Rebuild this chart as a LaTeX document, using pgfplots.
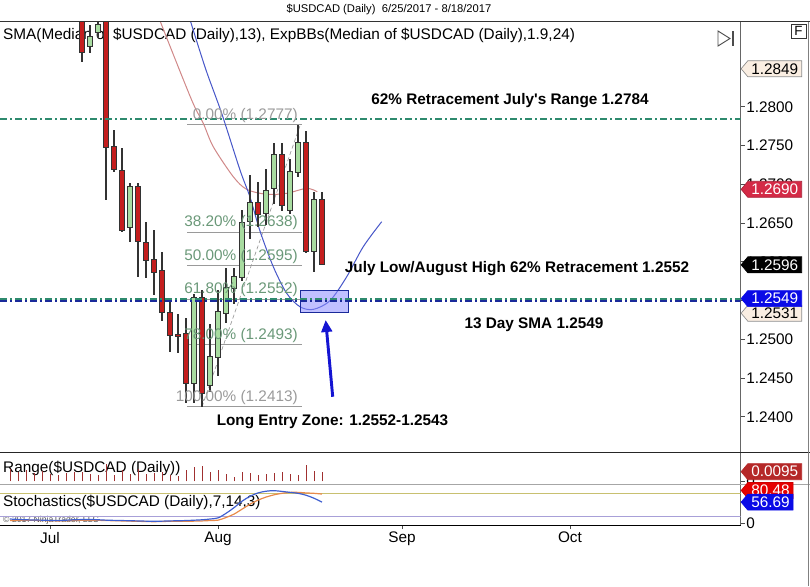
\documentclass[border=0pt]{standalone}
\usepackage{pgfplots}
\pgfplotsset{compat=1.18}
\usepackage{pgfplotstable}
\usepackage{fontspec}
\setmainfont{Liberation Sans}
\usetikzlibrary{shapes.symbols,arrows.meta}
\newcommand\fs{\fontsize{11.5}{13.5}\selectfont}
\definecolor{cred}{HTML}{C41E1E}
\definecolor{cgreen}{HTML}{A8DCA0}
\definecolor{cedge}{HTML}{333333}
\definecolor{fibtxt}{HTML}{6A9878}
\definecolor{fibgray}{HTML}{9A9A9A}
\definecolor{teal1}{HTML}{2E8A6E}
\definecolor{navy1}{HTML}{1A2A9A}
\definecolor{pinkma}{HTML}{D08888}
\definecolor{bluema}{HTML}{4656C8}
\definecolor{stochK}{HTML}{3F5FD0}
\definecolor{stochD}{HTML}{E88A4A}
\definecolor{cream}{HTML}{FAEEE2}
\definecolor{tagred}{HTML}{D42A46}
\definecolor{tagblue}{HTML}{0A0AE6}
\definecolor{tagdred}{HTML}{B52828}
\definecolor{arrowblue}{HTML}{1414D2}
\definecolor{rngcol}{HTML}{A03030}
\definecolor{line80}{HTML}{C8C070}
\definecolor{line20}{HTML}{A8A0D8}

\pgfplotstableread{
i o h l c
4 1.2940 1.2955 1.2858 1.2871
5 1.2878 1.2905 1.2869 1.2890
6 1.2896 1.2915 1.2890 1.2906
7 1.2915 1.2930 1.2680 1.2748
8 1.2748 1.2770 1.2716 1.2720
9 1.2718 1.2747 1.2638 1.2641
10 1.2644 1.2702 1.2626 1.2697
11 1.2697 1.2702 1.2581 1.2626
12 1.2624 1.2652 1.2579 1.2602
13 1.2603 1.2641 1.2557 1.2587
14 1.2588 1.2613 1.2523 1.2535
15 1.2534 1.2551 1.2484 1.2505
16 1.2506 1.2533 1.2482 1.2504
17 1.2507 1.2528 1.2418 1.2443
18 1.2443 1.2558 1.2418 1.2553
19 1.2553 1.2563 1.2413 1.2430
20 1.2441 1.2520 1.2432 1.2477
21 1.2477 1.2563 1.2452 1.2535
22 1.2534 1.2592 1.2521 1.2566
23 1.2566 1.2592 1.2545 1.2580
24 1.2580 1.2667 1.2575 1.2650
25 1.2652 1.2712 1.2630 1.2676
26 1.2676 1.2703 1.2645 1.2662
27 1.2662 1.2720 1.2647 1.2692
28 1.2695 1.2753 1.2675 1.2738
29 1.2738 1.2753 1.2665 1.2673
30 1.2667 1.2733 1.2662 1.2716
31 1.2716 1.2777 1.2710 1.2753
32 1.2753 1.2769 1.2612 1.2613
33 1.2613 1.2690 1.2587 1.2680
34 1.2680 1.2690 1.2596 1.2597
}\allc

\pgfplotstableread{
i o c
4 1.2940 1.2871
7 1.2915 1.2748
8 1.2748 1.2720
9 1.2718 1.2641
11 1.2697 1.2626
12 1.2624 1.2602
13 1.2603 1.2587
14 1.2588 1.2535
15 1.2534 1.2505
16 1.2506 1.2504
17 1.2507 1.2443
19 1.2553 1.2430
26 1.2676 1.2662
29 1.2738 1.2673
32 1.2753 1.2613
34 1.2680 1.2597
}\dnc

\pgfplotstableread{
i o c
5 1.2878 1.2890
6 1.2896 1.2906
10 1.2644 1.2697
18 1.2443 1.2553
20 1.2441 1.2477
21 1.2477 1.2535
22 1.2534 1.2566
23 1.2566 1.2580
24 1.2580 1.2650
25 1.2652 1.2676
27 1.2662 1.2692
28 1.2695 1.2738
30 1.2667 1.2716
31 1.2716 1.2753
33 1.2613 1.2680
}\upc

\pgfplotstableread{
i r
-5 0.0120
-4 0.0095
-3 0.0110
-2 0.0080
-1 0.0100
0 0.0075
1 0.0060
2 0.0085
3 0.0090
4 0.0095
5 0.0070
6 0.0065
7 0.0167
8 0.0060
9 0.0110
10 0.0076
11 0.0121
12 0.0073
13 0.0084
14 0.0090
15 0.0067
16 0.0051
17 0.0110
18 0.0140
19 0.0150
20 0.0088
21 0.0111
22 0.0071
23 0.0047
24 0.0092
25 0.0082
26 0.0058
27 0.0073
28 0.0078
29 0.0088
30 0.0071
31 0.0067
32 0.0157
33 0.0103
34 0.0095
}\rng

\pgfplotstableread{
i k d
-5 12 8
-3 10 9
-1 9 8
1 8 7
3 10 8
5 11 9
7 9 8
9 8 7
11 7 6
13 6 5
15 7 6
17 8 6
19 10 7
20 12 8
21 15 9
22 27 16
23 42 25
24 59 38
25 72 51
26 81 62
27 85.5 70
28 87 76
29 85 80
30 82.5 82.5
31 80 82.5
32 75 81
33 67 80
34 56.69 78
}\sto

\newcommand\candles[2]{%
\addplot[draw=none, mark=none, forget plot, error bars/.cd, y dir=both, y explicit, error mark=none,
  error bar style={draw=cedge, line width=4pt}]
  table[x=i, y expr={(\thisrow{o}+\thisrow{c})/2}, y error expr={abs(\thisrow{c}-\thisrow{o})/2+0.0001}] #1;
\addplot[draw=none, mark=none, forget plot, error bars/.cd, y dir=both, y explicit, error mark=none,
  error bar style={draw=#2, line width=2.6pt}]
  table[x=i, y expr={(\thisrow{o}+\thisrow{c})/2}, y error expr={max(abs(\thisrow{c}-\thisrow{o})/2-0.00003,0)}] #1;
}

\pgfplotsset{
  panel/.style={scale only axis, width=555.525pt, xmin=-6.25, xmax=86.34, anchor=north west,
    axis y line*=right, tick align=outside, major tick length=3pt,
    tick style={black!70, line width=0.6pt}, axis line style={black!60, line width=0.7pt},
    ticklabel style={font=\fs}, /pgf/number format/assume math mode=true, clip mode=individual,
    scaled y ticks=false},
}
\tikzset{tag/.style={signal, signal to=west, signal pointer angle=100, anchor=west,
  inner xsep=2.6pt, inner ysep=0.8pt, minimum height=12pt, font=\fs, line width=0.5pt}}

\begin{document}
\begin{tikzpicture}
\path[use as bounding box] (0pt,0pt) rectangle (607.5pt,-439.5pt);

% ---------------- main price panel ----------------
\begin{axis}[panel, at={(0pt,-16.275pt)}, height=322.95pt,
  ymin=1.23541, ymax=1.29097, axis x line=none,
  ytick={1.24,1.245,1.25,1.255,1.26,1.265,1.27,1.275,1.28},
  yticklabel style={/pgf/number format/fixed, /pgf/number format/fixed zerofill,
    /pgf/number format/precision=4, inner sep=1pt}]
\node[anchor=west, font=\fs, inner sep=0pt] at (rel axis cs:0.004,0.969)
  {SMA(Median of \$USDCAD (Daily),13), ExpBBs(Median of \$USDCAD (Daily),1.9,24)};
% fibonacci levels
\addplot[fibgray, line width=0.6pt, forget plot] coordinates {(17.16,1.2777) (31.46,1.2777)};
\addplot[fibgray, line width=0.6pt, forget plot] coordinates {(17.16,1.2638) (31.46,1.2638)};
\addplot[fibgray, line width=0.6pt, forget plot] coordinates {(17.16,1.2595) (31.46,1.2595)};
\addplot[fibgray, line width=0.6pt, forget plot] coordinates {(17.16,1.2552) (31.46,1.2552)};
\addplot[fibgray, line width=0.6pt, forget plot] coordinates {(17.16,1.2493) (31.46,1.2493)};
\addplot[fibgray, line width=0.6pt, forget plot] coordinates {(17.16,1.2413) (31.46,1.2413)};
\addplot[fibgray, densely dashed, line width=0.5pt, forget plot] coordinates {(19,1.2413) (31.3,1.2777)};
% moving averages
\addplot[pinkma, line width=0.75pt, smooth, forget plot] coordinates {
 (13.5,1.2920) (13.96,1.29054) (17.71,1.28086) (19.16,1.27786) (20.41,1.27484)
 (22.91,1.27097) (24.59,1.26934) (27.09,1.26870) (29.59,1.26883) (32.09,1.26947) (33.41,1.26903)};
\addplot[bluema, line width=0.75pt, smooth, forget plot] coordinates {
 (17.3,1.2920) (17.71,1.29054) (19.5,1.28474) (21.46,1.27915) (23.75,1.27183) (25,1.26835)
 (26.25,1.26396) (27.91,1.25936) (29.59,1.25592) (31.25,1.25419) (32.91,1.25385)
 (35,1.25497) (37.09,1.25806) (39.16,1.26194) (41.46,1.26516)};
% candles
\addplot[draw=none, mark=none, forget plot, error bars/.cd, y dir=both, y explicit, error mark=none,
  error bar style={draw=cedge, line width=0.8pt}]
  table[x=i, y expr={(\thisrow{h}+\thisrow{l})/2}, y error expr={(\thisrow{h}-\thisrow{l})/2}] \allc;
\candles{\dnc}{cred}
\candles{\upc}{cgreen}
% entry zone box
\addplot[draw=navy1, line width=0.6pt, fill=blue!45!white, fill opacity=0.55, forget plot]
  coordinates {(31.3,1.25347) (37.25,1.25347) (37.25,1.25635) (31.3,1.25635) (31.3,1.25347)};
% dash-dot levels
\addplot[teal1, line width=1.3pt, dash pattern=on 5.25pt off 2.25pt on 1.5pt off 2.25pt, forget plot]
  coordinates {(-6.25,1.2784) (86.34,1.2784)};
\addplot[teal1, line width=1.3pt, dash pattern=on 5.25pt off 2.25pt on 1.5pt off 2.25pt, forget plot]
  coordinates {(-6.25,1.2552) (86.34,1.2552)};
\addplot[navy1, line width=1.4pt, dash pattern=on 5.25pt off 2.25pt on 1.5pt off 2.25pt, forget plot]
  coordinates {(-6.25,1.2549) (86.34,1.2549)};
% arrow
\addplot[arrowblue, line width=2.2pt, -{Triangle[width=8pt,length=9pt]}, forget plot]
  coordinates {(35.34,1.24258) (34.46,1.25248)};
% fib labels
\node[anchor=base east, inner sep=0pt, yshift=4pt, font=\fs, text=fibgray] at (axis cs:31.0,1.2777) {0.00\% (1.2777)};
\node[anchor=base east, inner sep=0pt, yshift=4pt, font=\fs, text=fibtxt] at (axis cs:31.0,1.2638) {38.20\% (1.2638)};
\node[anchor=base east, inner sep=0pt, yshift=4pt, font=\fs, text=fibtxt] at (axis cs:31.0,1.2595) {50.00\% (1.2595)};
\node[anchor=base east, inner sep=0pt, yshift=4pt, font=\fs, text=fibtxt] at (axis cs:31.0,1.2552) {61.80\% (1.2552)};
\node[anchor=base east, inner sep=0pt, yshift=4pt, font=\fs, text=fibtxt] at (axis cs:31.0,1.2493) {78.00\% (1.2493)};
\node[anchor=base east, inner sep=0pt, yshift=4pt, font=\fs, text=fibgray] at (axis cs:31.0,1.2413) {100.00\% (1.2413)};
\coordinate (t1) at (axis cs:86.34,1.2849);
\coordinate (t2) at (axis cs:86.34,1.2690);
\coordinate (t3) at (axis cs:86.34,1.2596);
\coordinate (t4) at (axis cs:86.34,1.2549);
\coordinate (t5) at (axis cs:86.34,1.2531);
\end{axis}

% ---------------- range panel ----------------
\begin{axis}[panel, at={(0pt,-339.225pt)}, height=24pt,
  ymin=-0.003, ymax=0.0287, axis x line=none, ytick={0}, yticklabels={0}, yticklabel style={inner sep=1pt}]
\node[anchor=west, font=\fs, inner sep=0pt] at (rel axis cs:0.004,0.509) {Range(\$USDCAD (Daily))};
\addplot[ycomb, rngcol, line width=0.7pt, mark=none] table[x=i, y=r] \rng;
\coordinate (t6) at (axis cs:86.34,0.0095);
\end{axis}

% ---------------- stochastics panel ----------------
\begin{axis}[panel, at={(0pt,-363.225pt)}, height=30.525pt,
  ymin=-3.8, ymax=103.8, axis x line*=bottom, ytick={0}, yticklabel style={inner sep=1pt},
  xtick={0,21,44,65}, xticklabels={Jul,Aug,Sep,Oct}, x axis line style={black, line width=0.7pt},
  xticklabel style={inner sep=2pt}]
\node[anchor=west, font=\fs, inner sep=0pt] at (rel axis cs:0.004,0.565) {Stochastics(\$USDCAD (Daily),7,14,3)};
\node[anchor=west, font=\fontsize{6.5}{7}\selectfont, text=black!65, inner sep=0pt] at (rel axis cs:0.004,0.12) {© 2017 NinjaTrader, LLC};
\addplot[line80, line width=0.7pt, forget plot] coordinates {(-6.25,80) (86.34,80)};
\addplot[line20, line width=0.7pt, forget plot] coordinates {(-6.25,20) (86.34,20)};
\addplot[stochD, line width=0.9pt, smooth, mark=none] table[x=i, y=d] \sto;
\addplot[stochK, line width=0.9pt, smooth, mark=none] table[x=i, y=k] \sto;
\coordinate (t7) at (axis cs:86.34,80.48);
\coordinate (t8) at (axis cs:86.34,56.69);
\end{axis}

% ---------------- frame, titles, annotations (pixel units) ----------------
\begin{scope}[x=0.75pt,y=-0.75pt]
\draw[black!80, line width=0.6pt] (0,21.7) -- (810,21.7);
\draw[black!85, line width=0.75pt] (0,452.3) -- (810,452.3);
\draw[black!35, line width=1.2pt] (0,484.3) -- (810,484.3);
\draw[black!50, line width=0.6pt] (808.5,21.7) -- (808.5,586);
\node[font=\fontsize{8.4}{10}\selectfont, inner sep=0pt] at (389,10) {\$USDCAD (Daily)\ \ 6/25/2017 - 8/18/2017};
\node[font=\fs\bfseries, inner sep=0pt] at (510,101) {62\% Retracement July\textquotesingle s Range 1.2784};
\node[font=\fs\bfseries, inner sep=0pt] at (517,269) {July Low/August High 62\% Retracement 1.2552};
\node[font=\fs\bfseries, inner sep=0pt] at (534,325) {13 Day SMA 1.2549};
\node[font=\fs\bfseries, inner sep=0pt] at (332.5,421.5) {Long Entry Zone: 1.2552-1.2543};
% toolbar glyphs
\draw[black!70, line width=0.7pt] (718,31) -- (718,46) -- (730,38.5) -- cycle;
\draw[black!70, line width=0.9pt] (733,31) -- (733,46);
\draw[black!80, line width=0.7pt] (791,24) rectangle (806,38);
\node[font=\fontsize{10}{12}\selectfont, inner sep=0pt] at (798.5,31) {F};
\end{scope}

% ---------------- price tags ----------------
\node[tag, fill=cream, draw=black!45, text=black] at (t1) {1.2849};
\node[tag, fill=tagred, draw=tagred!80!black, text=white, yshift=2pt] at (t2) {1.2690};
\node[tag, fill=black, draw=black, text=white] at (t3) {1.2596};
\node[tag, fill=cream, draw=black!45, text=black, yshift=1.5pt] at (t5) {1.2531};
\node[tag, fill=tagblue, draw=tagblue, text=white, yshift=2pt] at (t4) {1.2549};
\node[tag, fill=tagdred, draw=tagdred, text=white] at (t6) {0.0095};
\node[tag, fill=red!90!black, draw=red!80!black, text=white, yshift=2pt] at (t7) {80.48};
\node[tag, fill=tagblue, draw=tagblue, text=white] at (t8) {56.69};
\end{tikzpicture}
\end{document}
